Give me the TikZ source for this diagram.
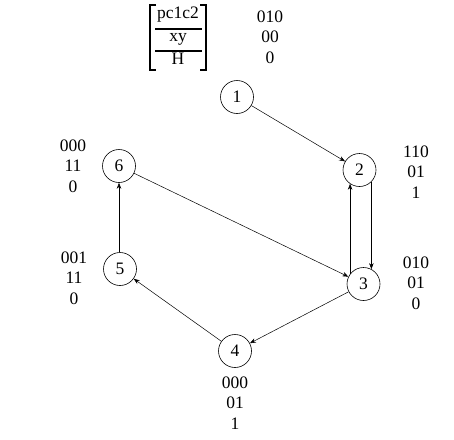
\documentclass[tikz,border=0pt]{standalone}
\usepackage{fontspec}
\setmainfont{Liberation Serif}
\usetikzlibrary{arrows.meta}
\tikzset{
  st/.style={circle,draw,line width=0.6pt,minimum size=33pt,inner sep=0pt,font=\fontsize{17.5}{20}\selectfont},
  lab/.style={align=center,inner sep=0pt,font=\fontsize{17.5}{20.5}\selectfont},
  arr/.style={line width=0.5pt,-{Stealth[length=6pt,width=4.5pt]}},
  brk/.style={line width=1.6pt},
  rul/.style={line width=1.2pt}
}
\begin{document}
\begin{tikzpicture}[x=1pt,y=-1pt]
\useasboundingbox (0,0) rectangle (454,439);
% header
\node[lab] (h1) at (178,15) {pc1c2};
\node[lab] (h2) at (178,39) {xy};
\node[lab] (h3) at (178,59) {H};
\draw[brk] (156,5) -- (150,5) -- (150,70) -- (156,70);
\draw[brk] (200,5) -- (206,5) -- (206,70) -- (200,70);
\draw[rul] (155,29) -- (202,29);
\draw[rul] (155,51) -- (202,51);
\node[lab] (hv) at (270,37) {010\\00\\0};
% states
\node[st] (1) at (237,97) {1};
\node[st] (2) at (359.5,170) {2};
\node[st] (3) at (363.5,284) {3};
\node[st] (4) at (235,351) {4};
\node[st] (5) at (120,269) {5};
\node[st] (6) at (119,166) {6};
% labels
\node[lab] (l6) at (73,166) {000\\11\\0};
\node[lab] (l5) at (74,278) {001\\11\\0};
\node[lab] (l2) at (416,172) {110\\01\\1};
\node[lab] (l3) at (416,283) {010\\01\\0};
\node[lab] (l4) at (235,403) {000\\01\\1};
% edges
\draw[arr] (1) -- (2);
\draw[arr] (2.-45) -- (2.-45 |- 3.62);
\draw[arr] (3.143) -- (3.143 |- 2.235);
\draw[arr] (6) -- (3);
\draw[arr] (3) -- (4);
\draw[arr] (4) -- (5);
\draw[arr] (5.north -| 6.south) -- (6.south);
\end{tikzpicture}
\end{document}
